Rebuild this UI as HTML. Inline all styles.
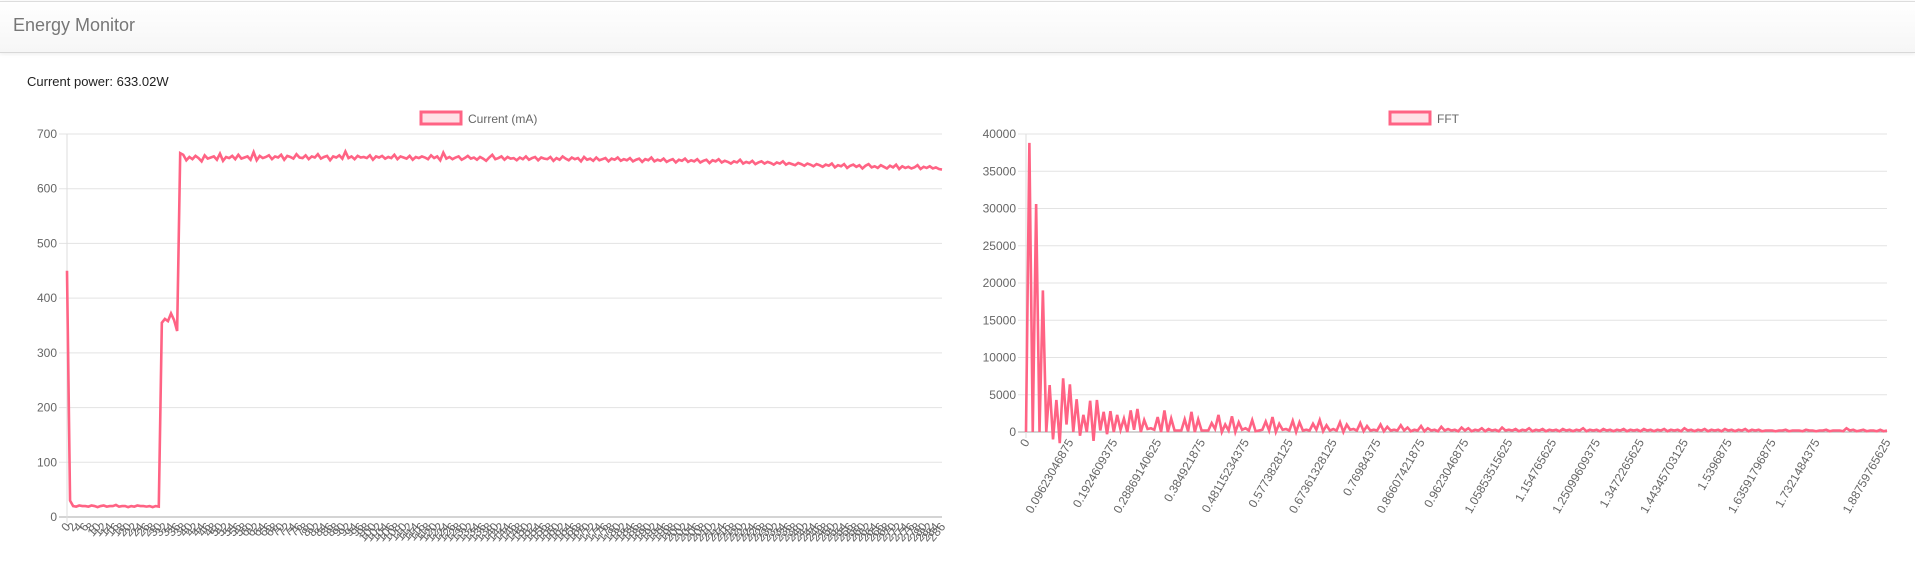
<!DOCTYPE html>
<html><head><meta charset="utf-8">
<style>
html,body{margin:0;padding:0;width:1915px;height:587px;overflow:hidden;background:#fff;font-family:"Liberation Sans",sans-serif;}
#hdr{position:absolute;left:0;top:1px;width:1915px;height:50px;background:linear-gradient(#fff,#f6f6f6);border-top:1px solid #ddd;border-bottom:1px solid #d8d8d8;box-shadow:0 1px 4px rgba(0,0,0,0.08);}
#title{position:absolute;left:13px;top:13px;font-size:18px;color:#777;}
#power{position:absolute;left:27px;top:74px;font-size:13px;color:#222;}
svg{position:absolute;left:0;top:0;}
</style></head><body>
<div id="hdr"><div id="title">Energy Monitor</div></div>
<div id="power">Current power: 633.02W</div>
<svg id="chart" width="1915" height="587"></svg>
<script>
const currentValues=[450,30,20,19,21,20,20,19,21,20,18,20,21,19,20,20,22,19,20,20,18,20,19,21,20,20,19,20,18,20,19,355,362,358,372,360,340,
665,662,652,658,654,660,656,650,661,655,657,659,653,664,651,658,656,660,654,662,
655,657,659,653,667,652,660,656,658,661,654,659,657,662,653,660,658,655,663,657,
656,661,654,659,657,663,655,658,660,652,659,657,661,655,668,656,659,654,660,657,
658,656,661,653,659,657,660,655,658,656,662,654,659,657,655,660,653,658,656,659,
657,654,661,656,659,652,666,655,658,654,657,659,653,656,660,655,657,653,658,655,
651,657,662,654,656,659,653,658,655,656,652,657,654,659,653,656,658,652,657,655,
654,658,651,656,653,659,655,652,657,654,656,650,658,653,655,651,657,652,654,656,
650,655,653,657,651,654,652,656,650,653,655,649,654,652,657,650,653,651,655,649,
652,654,648,653,651,655,649,652,650,654,648,651,653,647,652,650,654,648,651,649,
646,650,648,653,646,649,647,651,645,648,650,646,649,647,644,648,646,650,644,647,
645,643,647,645,642,646,644,641,645,643,640,644,642,646,639,643,641,645,638,642,
644,640,643,637,642,645,639,641,638,643,640,637,642,639,644,636,641,638,640,637,
639,643,636,640,638,641,637,639,636,635];
const currentTicks=[0,100,200,300,400,500,600,700];
const fftValues=[0,38800,0,30600,0,19000,0,6300,-1000,4300,
-1500,7200,1000,6400,0,4400,-500,2300,0,4200,
-1200,4300,200,2700,-300,2800,0,2300,300,1800,
0,2900,300,3100,0,1600,400,500,300,2000,
0,2900,0,1800,200,200,200,1700,100,2700,
0,1700,200,200,200,1200,400,2300,0,
1000,200,2100,0,1300,300,500,200,1600,100,
200,300,1400,200,2000,0,1100,300,400,200,
1500,0,1300,200,300,200,1100,300,1600,100,
900,200,400,200,1300,0,1000,300,400,200,
1200,100,800,200,300,200,1000,100,700,200,
300,200,900,200,600,100,300,200,800,100,
500,200,300,100,700,200,400,200,300,100,
600,200,500,100,300,200,500,100,400,200,
300,100,600,200,300,200,400,100,300,200,
500,100,300,200,400,100,300,200,300,100,
400,200,300,100,300,200,500,100,300,200,
300,100,400,200,300,100,300,200,400,100,
300,200,300,100,400,200,300,100,300,200,
400,100,300,200,300,100,500,200,300,100,
300,200,400,100,300,200,300,100,400,200,
300,100,300,200,400,100,300,200,300,100,
200,200,200,100,200,200,300,100,200,200,
200,100,300,200,200,100,200,200,300,100,
200,200,200,100,500,200,300,100,200,300,
100,200,200,100,300,100,200];
const fftTicks=[0,5000,10000,15000,20000,25000,30000,35000,40000];
const fftStep=0.00740234375;
const fftLabelEvery=13;

const NS='http://www.w3.org/2000/svg';
const svg=document.getElementById('chart');
function mk(tag,attrs,parent){const e=document.createElementNS(NS,tag);for(const k in attrs)e.setAttribute(k,attrs[k]);(parent||svg).appendChild(e);return e;}

function drawChart(o){
  const g=mk('g',{});
  
  
  const ymax=o.ticks[o.ticks.length-1];
  const yS=v=>o.y1+(o.y0-o.y1)*(1-v/ymax);
  const n=o.values.length;
  const xS=i=>o.x0+(o.x1-o.x0)*i/(n-1);
  o.ticks.forEach(t=>{
    const y=yS(t);
    const ln=mk('line',{x1:o.x0-8,x2:o.x1,y1:y,y2:y,stroke:t===0?'#aaa':'#e3e3e3','stroke-width':1},g);
    
    
    const tx=mk('text',{x:o.x0-10,y:y+4,'text-anchor':'end','font-size':12,fill:'#666'},g);
    tx.textContent=t;
    
    
  });
  const ax=mk('line',{x1:o.x0,x2:o.x0,y1:o.y1,y2:o.y0+6,stroke:'#ddd'},g);
  
  
  for(let i=0;i<n;i++){
    const lab=o.label(i,n);
    if(lab===null)continue;
    const x=xS(i);
    const t=mk('text',{x:x+4,y:o.y0+10,'text-anchor':'end','font-size':12,fill:'#666',transform:`rotate(${o.rot} ${x+4} ${o.y0+10})`},g);
    t.textContent=lab;
    
    
  }
  let d='';
  o.values.forEach((v,i)=>{d+=(i?'L':'M')+xS(i).toFixed(2)+' '+yS(v).toFixed(2);});
  const p=mk('path',{d:d,fill:'none',stroke:'rgb(255,99,132)','stroke-width':2.6,'stroke-linejoin':'miter','stroke-miterlimit':4},g);
  
  
  const lg=mk('g',{},g);
  
  
  mk('rect',{x:o.lx,y:112,width:40,height:12,fill:'rgba(255,99,132,0.2)',stroke:'rgb(255,99,132)','stroke-width':3},lg);
  const lt=mk('text',{x:o.lx+47,y:123,'font-size':12,fill:'#666'},lg);
  lt.textContent=o.legend;
}
drawChart({name:'current-chart',values:currentValues,ticks:currentTicks,x0:67,x1:942,y0:517,y1:134,lx:421,legend:'Current (mA)',rot:-50,
  label:(i)=>i%2===0?String(i):null});
drawChart({name:'fft-chart',values:fftValues,ticks:fftTicks,x0:1026,x1:1887,y0:432,y1:134,lx:1390,legend:'FFT',rot:-60,
  label:(i,n)=>(i===n-1||(i%fftLabelEvery===0&&i<n-13))?String(+(i*fftStep).toPrecision(12)):null});
</script>
</body></html>
